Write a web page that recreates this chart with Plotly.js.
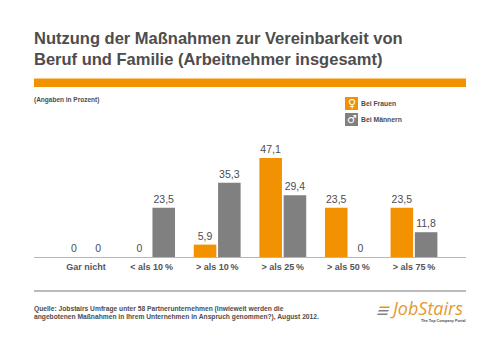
<!DOCTYPE html>
<html><head><meta charset="utf-8">
<script src="https://cdn.plot.ly/plotly-3.0.1.min.js"></script>
<style>html,body{margin:0;padding:0;background:#fff}#c{width:500px;height:353px}#c svg{opacity:.999}</style>
</head><body><div id="c"></div>
<script>
const categories = ["Gar nicht", "< als 10\u2009%", "> als 10\u2009%", "> als 25\u2009%", "> als 50\u2009%", "> als 75\u2009%"];
const frauen = [0, 0, 5.9, 47.1, 23.5, 23.5];
const maenner = [0, 23.5, 35.3, 29.4, 0, 11.8];
const nameF = "Bei Frauen", nameM = "Bei Männern";
const orange = "#F39200", gray = "#808080", textC = "#4d4d4d";
const W = 500, H = 353;
const px = x => x / W, py = y => 1 - y / H;
const fmt = v => String(v).replace(".", ",");
const font = "Liberation Sans, Arial, sans-serif";
const bar = (name, y, color) => ({
  type: "bar", name, x: categories, y, marker: {color},
  text: y.map(fmt), textposition: "outside", cliponaxis: false,
  textfont: {family: font, size: 10.5, color: textC}, hoverinfo: "skip"
});
const rect = (x0, y0, x1, y1, color) => ({type: "rect", xref: "paper", yref: "paper",
  x0: px(x0), x1: px(x1), y0: py(y0), y1: py(y1), fillcolor: color, line: {width: 0}, layer: "below"});
const slant = (x0, y0, x1, y1, color) => ({type: "path", xref: "paper", yref: "paper",
  path: `M${px(x0 + 1)},${py(y0)} L${px(x1 + 1)},${py(y0)} L${px(x1)},${py(y1)} L${px(x0)},${py(y1)} Z`,
  fillcolor: color, line: {width: 0}, layer: "below"});
const note = (x, y, text, size, weight, opts) => Object.assign({xref: "paper", yref: "paper", x: px(x), y: py(y),
  text, showarrow: false, xanchor: "left", yanchor: "middle", align: "left", borderpad: 0, borderwidth: 0,
  font: {family: font, size, color: textC, weight: weight || 400}}, opts || {});
const layout = {
  width: W, height: H, margin: {l: 0, r: 0, t: 0, b: 0}, paper_bgcolor: "#fff", plot_bgcolor: "#fff",
  showlegend: false, barmode: "group", bargap: 0.26, bargroupgap: 0.07,
  xaxis: {domain: [px(34), px(466)], range: [-0.793, 5.793], type: "category", anchor: "y",
    showgrid: false, zeroline: false, showline: true, linecolor: "#EDB23C", linewidth: 1, ticks: "",
    tickfont: {family: font, size: 9, color: "#555555", weight: 700}, fixedrange: true, ticklabelstandoff: 1},
  yaxis: {domain: [py(257), py(90)], range: [0, 79.5], visible: false, fixedrange: true},
  shapes: [
    rect(34, 78.5, 466, 87, orange),
    rect(34, 290.5, 466, 291.5, "#777777"),
    rect(345, 97, 358, 110, orange),
    rect(345, 113, 358, 126, gray),
    slant(379, 306.5, 389, 308, orange), slant(378, 310, 388, 311.5, gray), slant(377, 313.5, 387, 315, gray)
  ],
  annotations: [
    note(34, 38.5, "Nutzung der Maßnahmen zur Vereinbarkeit von", 16.5, 700),
    note(34, 59, "Beruf und Familie (Arbeitnehmer insgesamt)", 16.5, 700),
    note(34, 100, "(Angaben in Prozent)", 6.5, 700),
    note(351.5, 103.5, "♀", 11, 400, {xanchor: "center", font: {family: "DejaVu Sans", size: 11, color: "#fff"}}),
    note(351.5, 119.5, "♂", 11, 400, {xanchor: "center", font: {family: "DejaVu Sans", size: 11, color: "#fff"}}),
    note(361, 103.5, nameF, 6.8, 700),
    note(361, 119.5, nameM, 6.8, 700),
    note(34, 309, "Quelle: Jobstairs Umfrage unter 58 Partnerunternehmen (Inwieweit werden die", 6.7, 700),
    note(34, 317, "angebotenen Maßnahmen in Ihrem Unternehmen in Anspruch genommen?), August 2012.", 6.7, 700),
    note(390, 308, "JobStairs", 18, 400, {font: {family: "Open Sans, sans-serif", size: 18, color: "#E59A2F", style: "italic"}}),
    note(466, 320.5, "The Top Company Portal", 3.8, 700, {xanchor: "right"})
  ]
};
Plotly.newPlot("c", [bar(nameF, frauen, orange), bar(nameM, maenner, gray)], layout, {displayModeBar: false, staticPlot: true});
</script></body></html>
